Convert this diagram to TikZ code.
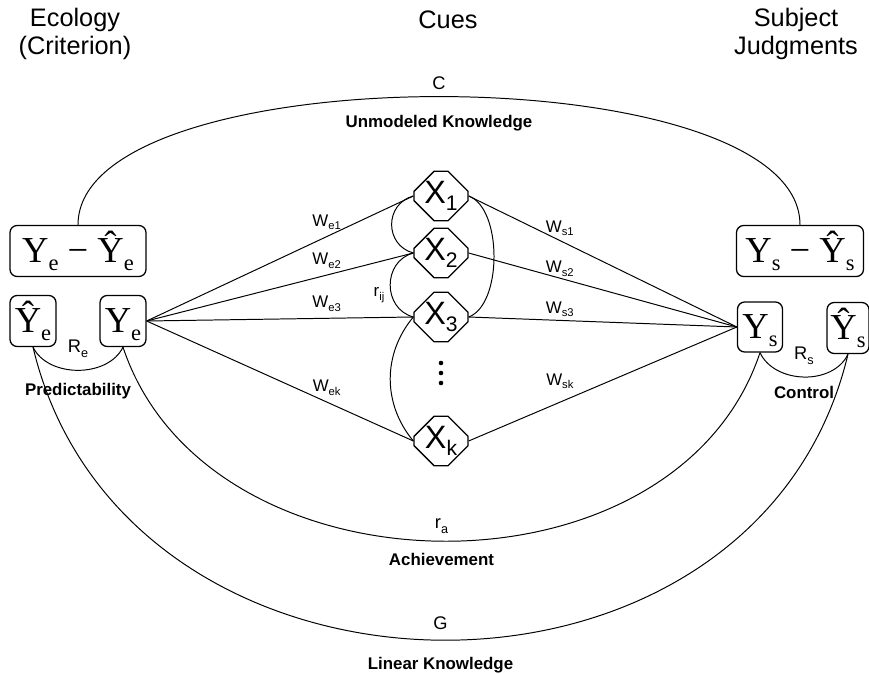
\documentclass[tikz,border=0pt]{standalone}
\usepackage{fontspec}
\setmainfont{Liberation Sans}
\newfontfamily\yfont{Liberation Serif}
\usepackage{tikz}
\usetikzlibrary{positioning, shapes.misc}

\newcommand{\ysub}[1]{\raisebox{-5.5pt}{\fontsize{16}{16}\selectfont #1}}
\newcommand{\ycrit}[1]{{\yfont\fontsize{26}{26}\selectfont\vphantom{Ŷ}Y\ysub{#1}}}
\newcommand{\yhat}[1]{{\yfont\fontsize{26}{26}\selectfont Ŷ\ysub{#1}}}
\newcommand{\ydiff}[1]{{\yfont\fontsize{26}{26}\selectfont Y\ysub{#1} − Ŷ\ysub{#1}}}
\newcommand{\cue}[1]{{\fontsize{23}{23}\selectfont X\raisebox{-5pt}{\fontsize{15}{15}\selectfont #1}}}
\newcommand{\smallsub}[2]{{\fontsize{12}{12}\selectfont #1\raisebox{-2.5pt}{\fontsize{8}{8}\selectfont #2}}}
\newcommand{\bigsub}[2]{{\fontsize{13}{13}\selectfont #1\raisebox{-3.5pt}{\fontsize{9}{9}\selectfont #2}}}

\begin{document}
\begin{tikzpicture}
        [x=0.025cm, y=0.025cm, line width=0.7pt,
         ybox/.style={draw, rounded corners=1.8mm, line width=0.9pt, inner sep=0pt, minimum height=1.275cm},
         cuebox/.style={draw, chamfered rectangle, chamfered rectangle xsep=2.5mm,
                        chamfered rectangle ysep=2.5mm, line width=0.9pt, inner sep=0pt,
                        minimum width=1.35cm, minimum height=1.125cm},
         heading/.style={align=center, font=\fontsize{18}{20}\selectfont},
         lbl/.style={inner sep=0pt},
         coef/.style={inner sep=0pt, font=\fontsize{13}{13}\selectfont},
         knowl/.style={inner sep=0pt, font=\bfseries\fontsize{12}{12}\selectfont}]
        \useasboundingbox (0,0) rectangle (869,673);

        % column headings
        \node[heading] (eco) at (75,639) {Ecology\\(Criterion)};
        \node[heading] (cues) at (448,653) {Cues};
        \node[heading] (subj) at (796,639) {Subject\\Judgments};

        % ecology side
        \node[ybox, minimum width=3.4cm] (YeDiff) at (78,422) {\ydiff{e}};
        \node[ybox, minimum width=1.15cm] (YeHat) at (33,352) {\yhat{e}};
        \node[ybox, minimum width=1.15cm] (Ye) at (123,352) {\ycrit{e}};

        % cues
        \node[cuebox] (X1) at (441,477) {\cue{1}};
        \node[cuebox] (X2) at (441,420) {\cue{2}};
        \node[cuebox] (X3) at (441,356) {\cue{3}};
        \node[cuebox] (Xk) at (441,232) {\cue{k}};
        \foreach \y in {290,300,310}
            \fill (441,\y) circle (2.3);

        % subject side
        \node[ybox, minimum width=3.175cm] (YsDiff) at (800,422) {\ydiff{s}};
        \node[ybox, minimum width=1.125cm, minimum height=1.25cm] (Ys) at (760,346) {\ycrit{s}};
        \node[ybox, minimum width=1.05cm] (YsHat) at (848,345) {\yhat{s}};

        % cue weights
        \path (Ye.east) edge node[lbl, pos=0.675, above=4.5pt] (we1) {\smallsub{W}{e1}} (X1.west)
                        edge node[lbl, pos=0.675, above=4.5pt] (we2) {\smallsub{W}{e2}} (X2.west)
                        edge node[lbl, pos=0.675, above=4.5pt] (we3) {\smallsub{W}{e3}} (X3.west)
                        edge node[lbl, pos=0.675, above=4.5pt] (wek) {\smallsub{W}{ek}} (Xk.west);
        \path (Ys.west) edge node[lbl, pos=0.66, above=3pt] (ws1) {\smallsub{W}{s1}} (X1.east)
                        edge node[lbl, pos=0.66, above=1pt] (ws2) {\smallsub{W}{s2}} (X2.east)
                        edge node[lbl, pos=0.66, above=2pt] (ws3) {\smallsub{W}{s3}} (X3.east)
                        edge node[lbl, pos=0.66, above=9pt] (wsk) {\smallsub{W}{sk}} (Xk.east);

        % cue intercorrelations
        \path (X1.west) edge[out=195, in=165, distance=0.75cm] (X2.west);
        \path (X2.west) edge[out=195, in=165, distance=0.8cm] (X3.west);
        \path (X3.west) edge[out=230, in=130, distance=1.2cm] (Xk.west);
        \path (X1.east) edge[out=-20, in=20, distance=0.9cm] (X3.east);
        \node[lbl] (rij) at (379,378) {\smallsub{r}{ij}};

        % lens model indices
        \path (YeDiff.north) edge[out=90, in=90, distance=4.275cm]
              node[coef, above=4.7pt] (C) {C} node[knowl, below=13pt] (unk) {Unmodeled Knowledge} (YsDiff.north);
        \path (YeHat.south) edge[out=-64, in=-116, distance=0.86cm]
              node[lbl, above=8.5pt] (Re) {\bigsub{R}{e}} node[knowl, below=8.5pt] (pred) {Predictability} (Ye.south);
        \path (Ys.south) edge[out=-65, in=-115, distance=0.87cm]
              node[lbl, above=8.5pt] (Rs) {\bigsub{R}{s}} node[knowl, below=6.5pt] (ctrl) {Control} (YsHat.south);
        \path (Ye.south) edge[out=-71.6, in=-108.4, distance=6.72cm]
              node[lbl, above=5pt] (ra) {\bigsub{r}{a}} node[knowl, below=8pt] (ach) {Achievement} (Ys.south);
        \path (YeHat.south) edge[out=-76.6, in=-103.4, distance=9.92cm]
              node[coef, above=7pt] (G) {G} node[knowl, below=12pt] (lin) {Linear Knowledge} (YsHat.south);
    \end{tikzpicture}
\end{document}
